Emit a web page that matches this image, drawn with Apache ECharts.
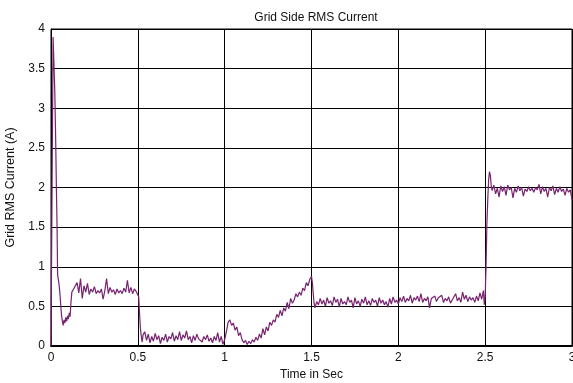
<!DOCTYPE html>
<html>
<head>
<meta charset="utf-8">
<script src="https://cdn.jsdelivr.net/npm/echarts@6/dist/echarts.min.js"></script>
<style>
html,body{margin:0;padding:0;background:#fff;}
#chart{width:573px;height:383px;}
</style>
</head>
<body>
<div id="chart"></div>
<script>
const chartTitle = "Grid Side RMS Current";
const xAxisName = "Time in Sec";
const yAxisName = "Grid RMS Current (A)";
const xTicks = [0, 0.5, 1, 1.5, 2, 2.5, 3];
const yTicks = [0, 0.5, 1, 1.5, 2, 2.5, 3, 3.5, 4];

const time = [
0,0.008,0.012,0.017,0.022,0.027,0.031,0.035,0.038,0.045,0.05,0.055,0.06,0.065,0.07,0.075,0.08,0.085,0.09,0.095,0.1,0.105,0.11,0.115,0.12,0.13,
0.14,0.15,0.16,0.17,0.18,0.19,0.2,0.21,0.22,0.23,0.24,0.25,0.26,0.27,0.28,0.29,0.3,0.31,0.32,0.33,0.34,0.35,0.36,0.37,0.38,0.39,0.4,0.41,0.42,0.43,0.44,0.45,0.46,0.47,0.48,0.49,0.5,
0.505,0.51,0.515,0.52,0.525,0.53,
0.54,0.55,0.56,0.57,0.58,0.59,0.6,0.61,0.62,0.63,0.64,0.65,0.66,0.67,0.68,0.69,0.7,0.71,0.72,0.73,0.74,0.75,0.76,0.77,0.78,0.79,0.8,0.81,0.82,0.83,0.84,0.85,0.86,0.87,0.88,0.89,0.9,0.91,0.92,0.93,0.94,0.95,0.96,0.97,0.98,0.99,1.0,
1.01,1.02,1.03,1.04,1.05,1.06,1.07,1.08,1.09,1.1,1.11,1.12,1.13,1.14,1.15,1.16,1.17,1.18,1.19,1.2,1.21,1.22,1.23,1.24,1.25,1.26,1.27,1.28,1.29,1.3,1.31,1.32,1.33,1.34,1.35,1.36,1.37,1.38,1.39,1.4,1.41,1.42,1.43,1.44,1.45,1.46,1.47,1.48,1.49,1.5,
1.505,1.51,1.515,1.52,1.53,
1.54,1.55,1.56,1.57,1.58,1.59,1.6,1.61,1.62,1.63,1.64,1.65,1.66,1.67,1.68,1.69,1.7,1.71,1.72,1.73,1.74,1.75,1.76,1.77,1.78,1.79,1.8,1.81,1.82,1.83,1.84,1.85,1.86,1.87,1.88,1.89,1.9,1.91,1.92,1.93,1.94,1.95,1.96,1.97,1.98,1.99,
2.0,2.01,2.02,2.03,2.04,2.05,2.06,2.07,2.08,2.09,2.1,2.11,2.12,2.13,2.14,2.15,2.16,2.17,2.18,2.19,2.2,2.21,2.22,2.23,2.24,2.25,2.26,2.27,2.28,2.29,2.3,2.31,2.32,2.33,2.34,2.35,2.36,2.37,2.38,2.39,2.4,2.41,2.42,2.43,2.44,2.45,2.46,2.47,2.48,2.49,
2.495,2.5,2.505,2.51,2.515,2.52,2.525,2.53,2.535,
2.54,2.55,2.56,2.57,2.58,2.59,2.6,2.61,2.62,2.63,2.64,2.65,2.66,2.67,2.68,2.69,2.7,2.71,2.72,2.73,2.74,2.75,2.76,2.77,2.78,2.79,2.8,2.81,2.82,2.83,2.84,2.85,2.86,2.87,2.88,2.89,2.9,2.91,2.92,2.93,2.94,2.95,2.96,2.97,2.98,2.99,3.0
];

const current = [
0,0,3.9,3.92,3.2,2.6,2.0,1.5,0.9,0.8,0.7,0.55,0.4,0.32,0.26,0.33,0.29,0.36,0.31,0.38,0.34,0.42,0.37,0.55,0.68,0.72,
0.74,0.80,0.67,0.85,0.60,0.76,0.68,0.79,0.65,0.72,0.68,0.75,0.66,0.70,0.67,0.72,0.59,0.70,0.85,0.66,0.74,0.68,0.71,0.65,0.72,0.67,0.70,0.66,0.73,0.68,0.83,0.67,0.74,0.66,0.72,0.69,0.68,
0.62,0.40,0.22,0.12,0.05,0.14,
0.18,0.07,0.15,0.04,0.12,0.06,0.16,0.08,0.13,0.03,0.11,0.07,0.15,0.05,0.12,0.09,0.17,0.06,0.13,0.08,0.18,0.07,0.14,0.10,0.19,0.08,0.12,0.04,0.13,0.07,0.15,0.09,0.11,0.05,0.12,0.08,0.14,0.06,0.10,0.04,0.12,0.07,0.17,0.05,0.12,0.02,0.08,
0.18,0.30,0.33,0.26,0.29,0.20,0.24,0.13,0.17,0.08,0.04,0.07,0.02,0.06,0.03,0.08,0.05,0.11,0.07,0.15,0.10,0.22,0.14,0.24,0.19,0.30,0.26,0.33,0.30,0.40,0.36,0.45,0.38,0.48,0.44,0.55,0.47,0.60,0.54,0.58,0.66,0.62,0.68,0.64,0.73,0.70,0.80,0.76,0.84,0.88,
0.80,0.66,0.54,0.48,0.56,
0.52,0.60,0.53,0.58,0.50,0.61,0.54,0.57,0.51,0.62,0.55,0.59,0.49,0.60,0.53,0.56,0.52,0.62,0.55,0.58,0.48,0.61,0.53,0.57,0.50,0.59,0.54,0.62,0.52,0.57,0.51,0.60,0.55,0.58,0.50,0.61,0.54,0.58,0.52,0.56,0.49,0.60,0.53,0.62,0.55,0.58,
0.53,0.61,0.56,0.63,0.55,0.60,0.57,0.64,0.54,0.61,0.58,0.63,0.56,0.66,0.55,0.60,0.57,0.62,0.48,0.60,0.58,0.63,0.56,0.61,0.59,0.64,0.55,0.60,0.57,0.62,0.54,0.58,0.60,0.66,0.57,0.61,0.55,0.68,0.59,0.64,0.56,0.62,0.58,0.61,0.55,0.63,0.57,0.67,0.59,0.70,
0.52,0.62,1.0,1.55,1.85,2.10,2.20,2.15,2.02,
1.96,2.03,1.92,1.99,1.88,2.02,1.95,2.01,1.90,2.03,1.97,2.00,1.87,1.99,1.94,2.02,1.96,2.00,1.89,1.98,1.95,2.01,1.96,1.99,1.94,2.00,1.97,2.04,1.92,2.01,1.95,1.99,1.88,2.00,1.96,2.02,1.91,1.99,1.94,2.01,1.95,1.98,1.90,1.99,1.94,1.97,1.85
];

const seriesData = time.map((t, i) => [t, current[i]]);

const chart = echarts.init(document.getElementById('chart'), null, {renderer: 'canvas'});
const font = 'Liberation Sans, Arial, sans-serif';
chart.setOption({
  animation: false,
  backgroundColor: '#ffffff',
  title: {
    text: chartTitle,
    left: 311, top: 7, textAlign: 'center',
    textStyle: {fontFamily: font, fontSize: 12, fontWeight: 'normal', color: '#111'}
  },
  grid: {
    left: 51, right: 1, top: 29, bottom: 37,
    outerBoundsMode: 'none', containLabel: false,
    show: true, borderColor: '#000', borderWidth: 1, backgroundColor: 'transparent'
  },
  xAxis: {
    type: 'value', min: xTicks[0], max: xTicks[xTicks.length - 1], interval: 0.5,
    name: xAxisName, nameLocation: 'middle', nameGap: 21,
    nameTextStyle: {fontFamily: font, fontSize: 12, color: '#111'},
    axisLine: {show: true, onZero: false, lineStyle: {color: '#000', width: 2}},
    axisTick: {show: true, inside: true, length: 4, lineStyle: {color: '#000'}},
    axisLabel: {fontFamily: font, fontSize: 12, color: '#111', margin: 6,
      formatter: v => String(v)},
    splitLine: {show: true, lineStyle: {color: '#000', width: 1}}
  },
  yAxis: {
    type: 'value', min: yTicks[0], max: yTicks[yTicks.length - 1], interval: 0.5,
    name: yAxisName, nameLocation: 'middle', nameGap: 31, nameRotate: 90,
    nameTextStyle: {fontFamily: font, fontSize: 12.5, color: '#111'},
    axisLine: {show: true, onZero: false, lineStyle: {color: '#000', width: 1}},
    axisTick: {show: true, inside: true, length: 4, lineStyle: {color: '#000'}},
    axisLabel: {fontFamily: font, fontSize: 12, color: '#111', margin: 6,
      formatter: v => String(v)},
    splitLine: {show: true, lineStyle: {color: '#000', width: 1}}
  },
  series: [{
    type: 'line',
    data: seriesData,
    showSymbol: false,
    symbol: 'none',
    lineStyle: {color: '#77226f', width: 1.2},
    clip: true
  }]
});
</script>
</body>
</html>
